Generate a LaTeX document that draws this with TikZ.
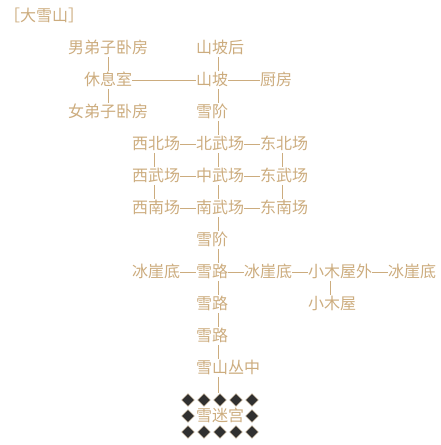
\documentclass[tikz,border=0pt]{standalone}
\usepackage{fontspec}
\newfontfamily\cjk{Noto Sans CJK SC}
\usetikzlibrary{shapes.geometric}
\definecolor{mudtan}{RGB}{204,172,126}
\definecolor{mazegray}{RGB}{48,48,48}

\begin{document}
\begin{tikzpicture}[x=1pt, y=-1pt,
		room/.style={anchor=west, inner sep=0pt, text height=13.6pt, text depth=1.8pt,
			text=mudtan, font=\cjk\fontsize{16}{16}\selectfont},
		link/.style={draw=mudtan, line width=1pt},
		vlink/.style={link, shorten <=1pt, shorten >=1pt},
		maze/.style={diamond, fill=mazegray, draw=mudtan!70, line width=0.4pt,
			minimum width=13pt, minimum height=13pt, inner sep=0pt}]
		\useasboundingbox (0,0) rectangle (441,445);
		
		% columns of the vertical links
		\coordinate (c18) at (154,0);
		\coordinate (c26) at (218,0);
		\coordinate (c34) at (282,0);
		\coordinate (c40) at (330,0);
		
		\node[room] (title) at (4,16) {［大雪山］};
		
		\node[room] (nanfang) at (68,48) {男弟子卧房};
		\node[room] (shanpohou) at (196,48) {山坡后};
		\node[room] (xiuxi) at (84,80) {休息室};
		\node[room] (shanpo) at (196,80) {山坡};
		\node[room] (chufang) at (260,80) {厨房};
		\node[room] (nvfang) at (68,112) {女弟子卧房};
		\node[room] (xuejiea) at (196,112) {雪阶};
		
		\foreach \y/\r/\w/\c/\e in {144/n/西北场/北武场/东北场, 176/m/西武场/中武场/东武场, 208/s/西南场/南武场/东南场} {
			\node[room] (w\r) at (132, \y) {\w};
			\node[room] (c\r) at (196, \y) {\c};
			\node[room] (e\r) at (260, \y) {\e};
		}
		
		\node[room] (xuejieb) at (196,240) {雪阶};
		\node[room] (bingyaa) at (132,272) {冰崖底};
		\node[room] (xuelua) at (196,272) {雪路};
		\node[room] (bingyab) at (244,272) {冰崖底};
		\node[room] (muwuwai) at (308,272) {小木屋外};
		\node[room] (bingyac) at (388,272) {冰崖底};
		\node[room] (xuelub) at (196,304) {雪路};
		\node[room] (muwu) at (308,304) {小木屋};
		\node[room] (xueluc) at (196,336) {雪路};
		\node[room] (congzhong) at (196,368) {雪山丛中};
		\node[room] (migong) at (196,416) {雪迷宫};
		
		% maze
		\foreach \i in {1,...,5} {
			\node[maze] (ma\i) at (172+16*\i, 400) {};
			\node[maze] (mc\i) at (172+16*\i, 432) {};
		}
		\node[maze] (mb1) at (188,416) {};
		\node[maze] (mb5) at (252,416) {};
		
		% horizontal links
		\draw[link] (xiuxi.east) -- (shanpo.west);
		\draw[link] (shanpo.east) -- (chufang.west);
		\foreach \r in {n, m, s} {
			\draw[link] (w\r.east) -- (c\r.west);
			\draw[link] (c\r.east) -- (e\r.west);
		}
		\draw[link] (bingyaa.east) -- (xuelua.west);
		\draw[link] (xuelua.east) -- (bingyab.west);
		\draw[link] (bingyab.east) -- (muwuwai.west);
		\draw[link] (muwuwai.east) -- (bingyac.west);
		
		% vertical links
		\draw[vlink] (nanfang.south) -- (xiuxi.north);
		\draw[vlink] (xiuxi.south) -- (nvfang.north);
		\foreach \a/\b in {shanpohou/shanpo, shanpo/xuejiea, xuejiea/cn, cn/cm, cm/cs, cs/xuejieb, xuejieb/xuelua, xuelua/xuelub, xuelub/xueluc, xueluc/congzhong} {
			\draw[vlink] (\a.south -| c26) -- (\b.north -| c26);
		}
		\draw[link, shorten <=1pt] (congzhong.south -| c26) -- (ma3.north -| c26);
		\draw[vlink] (wn.south -| c18) -- (wm.north -| c18);
		\draw[vlink] (wm.south -| c18) -- (ws.north -| c18);
		\draw[vlink] (en.south -| c34) -- (em.north -| c34);
		\draw[vlink] (em.south -| c34) -- (es.north -| c34);
		\draw[vlink] (muwuwai.south -| c40) -- (muwu.north -| c40);
	\end{tikzpicture}
\end{document}
